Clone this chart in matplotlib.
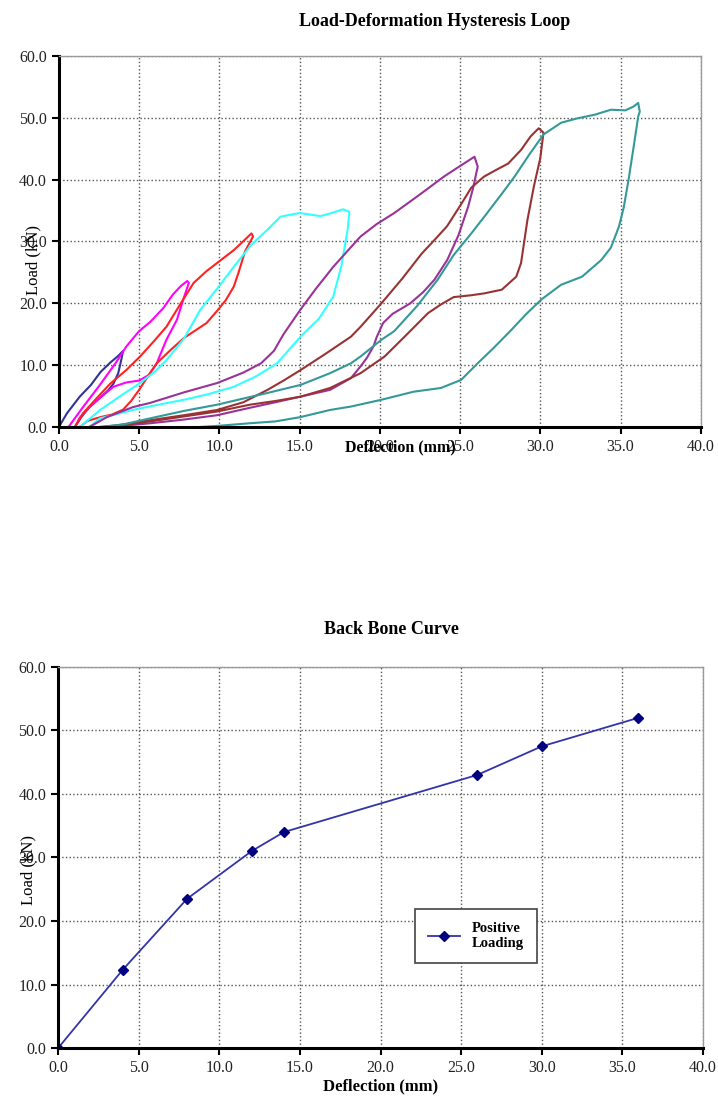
import matplotlib.pyplot as plt
from matplotlib.ticker import MultipleLocator, FormatStrFormatter

plt.rcParams['font.family'] = ['Liberation Serif', 'DejaVu Serif']

# Hysteresis loops: loading branch followed by unloading branch, one list per cycle
loop1_x = [0.0, 0.5, 1.3, 2.0, 2.6, 3.2, 3.7, 4.0, 3.9, 3.7, 3.4, 3.1, 2.6, 1.9, 1.4, 1.0]
loop1_y = [0.0, 2.2, 4.9, 6.8, 8.9, 10.4, 11.5, 12.3, 11.0, 8.7, 7.0, 6.0, 4.8, 3.2, 1.6, 0.0]

loop2_x = [0.6, 1.5, 2.5, 3.5, 4.2, 5.0, 5.7, 6.5, 7.1, 7.6, 8.0,
           8.1, 7.8, 7.35, 6.7, 6.1, 5.6, 5.0, 4.2, 3.4, 2.6, 1.9, 1.3, 1.0]
loop2_y = [0.0, 3.2, 6.6, 10.2, 13.0, 15.5, 17.0, 19.2, 21.4, 22.8, 23.6,
           23.3, 21.0, 17.3, 14.1, 10.3, 8.4, 7.5, 7.2, 6.5, 4.8, 3.2, 1.5, 0.0]

loop3_x = [1.0, 1.5, 2.3, 3.2, 4.2, 5.06, 5.9, 6.7, 7.6, 8.4, 9.2, 9.9, 10.9, 11.6, 12.0,
           12.1, 11.6, 11.2, 10.9, 10.4, 9.9, 9.2, 8.5, 7.8, 6.9, 6.1, 5.5, 5.0, 4.5, 4.0,
           3.3, 2.6, 1.8, 1.3]
loop3_y = [0.0, 2.2, 4.5, 7.0, 9.2, 11.4, 13.8, 16.2, 20.0, 23.3, 25.2, 26.6, 28.6, 30.3, 31.3,
           30.8, 28.4, 25.0, 22.7, 20.5, 18.9, 16.8, 15.6, 14.4, 12.3, 10.3, 8.0, 6.0, 4.2, 2.8,
           2.0, 1.6, 1.0, 0.0]

loop4_x = [1.3, 2.6, 4.0, 5.06, 6.0, 6.7, 7.8, 8.8, 9.9, 10.9, 12.0, 13.0, 13.8, 15.0, 16.3,
           17.0, 17.7, 18.1, 18.0, 17.6, 17.1, 16.2, 15.06, 13.6, 12.3, 10.9, 9.3, 7.8, 6.0,
           4.6, 3.5, 2.56, 1.9]
loop4_y = [0.0, 2.8, 5.3, 7.1, 9.0, 10.8, 14.3, 18.9, 22.5, 25.9, 29.5, 31.9, 34.0, 34.6, 34.1,
           34.6, 35.2, 34.8, 32.0, 26.0, 21.1, 17.5, 14.6, 10.3, 8.2, 6.5, 5.3, 4.4, 3.5,
           2.75, 2.0, 1.4, 0.0]

loop5_x = [1.9, 3.0, 4.6, 5.7, 7.8, 9.86, 11.5, 12.6, 13.4, 14.0, 15.06, 16.0, 17.1, 18.0, 18.8,
           19.8, 20.9, 22.5, 24.0, 25.0, 25.9, 26.1, 25.8, 25.5, 24.9, 24.2, 23.4, 22.7, 21.9,
           20.8, 20.2, 19.8, 19.6, 19.2, 18.8, 18.2, 16.9, 15.06, 13.5, 11.9, 9.86, 7.8, 5.7,
           4.0, 2.6]
loop5_y = [0.0, 1.6, 3.2, 3.9, 5.6, 7.1, 8.8, 10.3, 12.3, 15.0, 19.0, 22.3, 25.9, 28.5, 30.8,
           32.8, 34.6, 37.6, 40.5, 42.2, 43.7, 42.1, 38.5, 35.6, 31.0, 27.0, 23.8, 21.8, 20.0,
           18.3, 16.8, 14.5, 13.0, 11.2, 9.8, 7.9, 6.0, 4.9, 4.0, 3.1, 1.9, 1.2, 0.6,
           0.2, 0.0]

loop6_x = [2.8, 4.0, 5.7, 7.8, 9.86, 11.5, 13.0, 14.0, 15.06, 16.6, 18.2, 18.8, 20.1, 21.4,
           22.6, 23.5, 24.2, 25.06, 25.7, 26.5, 27.2, 28.0, 28.8, 29.4, 29.9,
           30.2, 30.0, 29.6, 29.2, 29.0, 28.8, 28.5, 27.6, 26.5, 25.7, 24.6, 23.8, 23.0, 21.7,
           20.3, 18.8, 16.9, 15.06, 13.5, 11.9, 9.86, 7.8, 5.7, 4.0, 3.0]
loop6_y = [0.0, 0.4, 1.1, 1.9, 2.75, 4.0, 6.0, 7.5, 9.2, 11.8, 14.6, 16.2, 20.0, 24.0,
           28.0, 30.5, 32.5, 36.0, 38.7, 40.5, 41.5, 42.6, 44.8, 47.0, 48.3,
           47.6, 43.5, 38.9, 33.5, 30.0, 26.5, 24.3, 22.2, 21.6, 21.3, 21.0, 19.8, 18.4, 15.0,
           11.4, 8.7, 6.3, 4.9, 4.2, 3.6, 2.5, 1.7, 0.9, 0.3, 0.0]

loop7_x = [2.5, 4.0, 5.7, 7.8, 9.86, 11.5, 13.0, 15.06, 16.9, 18.2, 18.8, 20.1, 20.9, 22.3,
           23.6, 24.6, 25.7, 26.6, 27.6, 28.4, 29.3, 30.2, 31.3, 32.3, 33.4, 34.4, 35.3, 35.8,
           36.1, 36.2, 36.1, 35.8, 35.5, 35.2, 34.9, 34.4, 33.8, 32.6, 31.3, 30.06, 29.1, 28.2,
           27.1, 26.1, 25.06, 23.8, 22.1, 20.1, 18.2, 16.9, 15.06, 13.5, 11.9, 10.0, 8.8]
loop7_y = [0.0, 0.4, 1.4, 2.6, 3.6, 4.6, 5.5, 6.8, 8.7, 10.3, 11.4, 14.1, 15.5, 19.5,
           23.8, 27.8, 31.3, 34.3, 37.7, 40.5, 44.0, 47.3, 49.2, 49.9, 50.5, 51.3, 51.2, 51.8,
           52.4, 51.0, 50.2, 45.0, 40.0, 35.5, 32.4, 29.0, 27.0, 24.3, 23.0, 20.6, 18.2, 15.7,
           12.8, 10.3, 7.6, 6.3, 5.7, 4.4, 3.3, 2.75, 1.6, 0.9, 0.6, 0.2, 0.0]

loops = [
    (loop1_x, loop1_y, '#333399'),
    (loop2_x, loop2_y, '#FF00FF'),
    (loop3_x, loop3_y, '#FF2222'),
    (loop4_x, loop4_y, '#33FFFF'),
    (loop5_x, loop5_y, '#993399'),
    (loop6_x, loop6_y, '#993333'),
    (loop7_x, loop7_y, '#339999'),
]

# Peak of each cycle -> envelope
backbone_x = [0.0, 4.0, 8.0, 12.0, 14.0, 26.0, 30.0, 36.0]
backbone_y = [0.0, 12.3, 23.5, 31.0, 34.0, 43.0, 47.5, 52.0]

fig = plt.figure(figsize=(7.18, 10.99), dpi=100)
ax1 = fig.add_axes([0.082, 0.6115, 0.894, 0.3376])
ax2 = fig.add_axes([0.081, 0.0464, 0.898, 0.3467])


def style_axes(ax):
    ax.set_xlim(0, 40)
    ax.set_ylim(0, 60)
    ax.xaxis.set_major_locator(MultipleLocator(5))
    ax.yaxis.set_major_locator(MultipleLocator(10))
    ax.xaxis.set_major_formatter(FormatStrFormatter('%.1f'))
    ax.yaxis.set_major_formatter(FormatStrFormatter('%.1f'))
    ax.grid(True, color='#555555', linestyle=':', linewidth=1.0)
    ax.set_axisbelow(True)
    for side in ('top', 'right'):
        ax.spines[side].set_color('#9a9a9a')
        ax.spines[side].set_linewidth(1.0)
    for side in ('left', 'bottom'):
        ax.spines[side].set_color('black')
        ax.spines[side].set_linewidth(2.2)
    ax.tick_params(direction='out', length=5, width=1.5, labelsize=11.5,
                   colors='black', labelcolor='#222222')


style_axes(ax1)
for lx, ly, c in loops:
    ax1.plot(lx, ly, color=c, linewidth=1.5)
fig.text(0.606, 0.980, 'Load-Deformation Hysteresis Loop', ha='center', va='center',
         fontsize=13, fontweight='bold')
fig.text(0.557, 0.593, 'Deflection (mm)', ha='center', va='center',
         fontsize=11.5, fontweight='bold')
fig.text(0.046, 0.763, 'Load (kN)', ha='center', va='center', rotation=90, fontsize=12)

style_axes(ax2)
ax2.plot(backbone_x, backbone_y, color='#3333AA', linewidth=1.3, marker='D',
         markersize=5, markerfacecolor='#000080', markeredgecolor='#000080',
         label='Positive\nLoading')
leg = ax2.legend(loc='upper left', bbox_to_anchor=(0.553, 0.365), borderaxespad=0,
                 fancybox=False, framealpha=1, edgecolor='#444444', handlelength=2.2,
                 borderpad=0.9, prop={'weight': 'bold', 'size': 10.5})
leg.get_frame().set_linewidth(1.2)
fig.text(0.545, 0.4275, 'Back Bone Curve', ha='center', va='center',
         fontsize=13, fontweight='bold')
ax2.set_xlabel('Deflection (mm)', fontsize=12, fontweight='bold', labelpad=2)
fig.text(0.040, 0.208, 'Load (kN)', ha='center', va='center', rotation=90, fontsize=12)

fig.savefig('out.png', dpi=100)
